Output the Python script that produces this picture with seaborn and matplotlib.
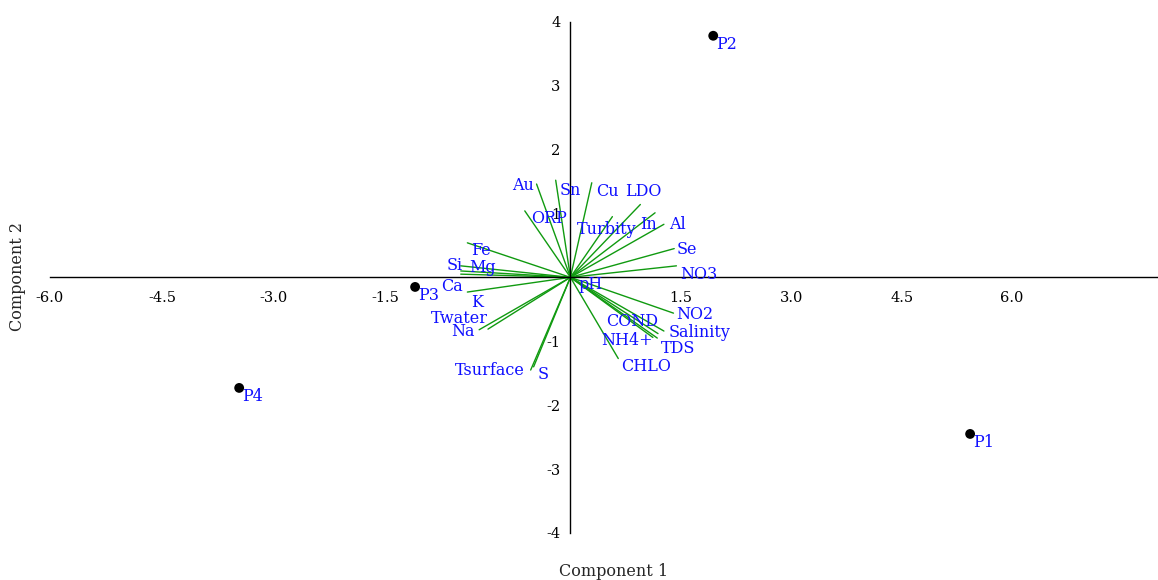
import numpy as np
import pandas as pd
import seaborn as sns
import matplotlib
matplotlib.use("Agg")
import matplotlib.pyplot as plt

# sample scores
samples = ["P1", "P2", "P3", "P4"]
sample_pc1 = [5.43, 1.94, -2.11, -4.50]
sample_pc2 = [-2.45, 3.78, -0.15, -1.73]

# variable loadings (scaled)
variables = ["Au", "Sn", "Cu", "LDO", "ORP", "Turbity", "In", "Al", "Se", "NO3",
             "NO2", "Salinity", "TDS", "COND", "NH4+", "CHLO", "pH",
             "Fe", "Si", "Mg", "Ca", "K", "Twater", "Na", "Tsurface", "S"]
load_pc1 = [-0.46, -0.20, 0.29, 0.95, -0.62, 0.57, 1.15, 1.27, 1.41, 1.44,
            1.40, 1.27, 1.18, 1.19, 1.12, 0.65, 0.08,
            -1.40, -1.49, -1.49, -1.49, -1.40, -1.12, -1.24, -0.54, -0.50]
load_pc2 = [1.46, 1.52, 1.48, 1.14, 1.04, 0.95, 1.01, 0.83, 0.45, 0.18,
            -0.56, -0.84, -0.95, -0.88, -0.94, -1.27, -0.05,
            0.54, 0.18, 0.10, 0.05, -0.23, -0.81, -0.82, -1.45, -1.40]

x_tick_labels = ["-6.0", "-4.5", "-3.0", "-1.5", "1.5", "3.0", "4.5", "6.0"]
x_tick_pos = [-7.07, -5.55, -4.03, -2.51, 1.5, 3.0, 4.5, 6.0]
y_ticks = [-4, -3, -2, -1, 1, 2, 3, 4]

# label placement: (ha, dx px, dy px up)
label_place = {
    "Au": ("right", -3, -1), "Sn": ("left", 4, -10), "Cu": ("left", 4, -9),
    "LDO": ("left", -15, 13), "ORP": ("left", 6, -8), "Turbity": ("left", -36, -13),
    "In": ("left", -15, -12), "Al": ("left", 5, 0), "Se": ("left", 2, -1),
    "NO3": ("left", 4, -9), "NO2": ("left", 3, -1), "Salinity": ("left", 5, -1),
    "TDS": ("left", 4, -10), "COND": ("right", 0, 12), "NH4+": ("right", 0, -3),
    "CHLO": ("left", 3, -8), "pH": ("left", 2, -4), "Fe": ("left", 4, -8),
    "Si": ("right", 2, 0), "Mg": ("left", 8, 3), "Ca": ("right", 2, -12),
    "K": ("left", 4, -10), "Twater": ("right", 0, 11), "Na": ("right", -4, -2),
    "Tsurface": ("right", -6, 0), "S": ("left", 4, -8),
}

sns.set_style("white")
plt.rcParams["font.family"] = ["DejaVu Serif"]

W, H = 1158, 580
fig = plt.figure(figsize=(W / 100, H / 100), dpi=100)
ax = fig.add_axes([50 / W, (H - 533) / H, (W - 50) / W, (533 - 21.7) / H])

# loading vectors from the origin
rows = []
for v, x, y in zip(variables, load_pc1, load_pc2):
    rows.append({"var": v, "x": 0.0, "y": 0.0, "o": 0})
    rows.append({"var": v, "x": x, "y": y, "o": 1})
vec = pd.DataFrame(rows)
sns.lineplot(data=vec, x="x", y="y", units="var", estimator=None, sort=False,
             color="#109a10", linewidth=1.0, ax=ax, legend=False)

for v, x, y in zip(variables, load_pc1, load_pc2):
    ha, dx, dy = label_place[v]
    ax.annotate(v, (x, y), xytext=(dx, dy), textcoords="offset pixels",
                ha=ha, va="center", color="#1010ff", fontsize=11.5)

pts = pd.DataFrame({"name": samples, "x": sample_pc1, "y": sample_pc2})
sns.scatterplot(data=pts, x="x", y="y", color="black", s=50, ax=ax,
                edgecolor="none", zorder=5, legend=False)
for n, x, y in zip(samples, sample_pc1, sample_pc2):
    ax.annotate(n, (x, y), xytext=(3, -9), textcoords="offset pixels",
                ha="left", va="center", color="#1010ff", fontsize=11.5)

ax.set_xlim(-7.07, (W - 570.5) / 73.6)
ax.set_ylim(-4.0, 4.0)

ax.spines["left"].set_position(("data", 0))
ax.spines["bottom"].set_position(("data", 0))
ax.spines["right"].set_visible(False)
ax.spines["top"].set_visible(False)
for s in ("left", "bottom"):
    ax.spines[s].set_color("black")
    ax.spines[s].set_linewidth(1.0)
ax.spines["left"].set_bounds(-4, 4)

ax.set_xticks(x_tick_pos)
ax.set_xticklabels(x_tick_labels)
ax.set_yticks(y_ticks)
ax.set_yticklabels([str(t) for t in y_ticks])
ax.tick_params(axis="both", direction="out", length=4, width=1, colors="black",
               labelsize=10.5, pad=3)
ax.tick_params(axis="x", pad=6)
ax.set_xlabel("")
ax.set_ylabel("")

fig.text(613.5 / W, 1 - 572 / H, "Component 1", ha="center", va="center", fontsize=11.5)
fig.text(18 / W, 1 - 276 / H, "Component 2", ha="center", va="center",
         rotation=90, fontsize=11.5)

fig.savefig("out.png", dpi=100)
